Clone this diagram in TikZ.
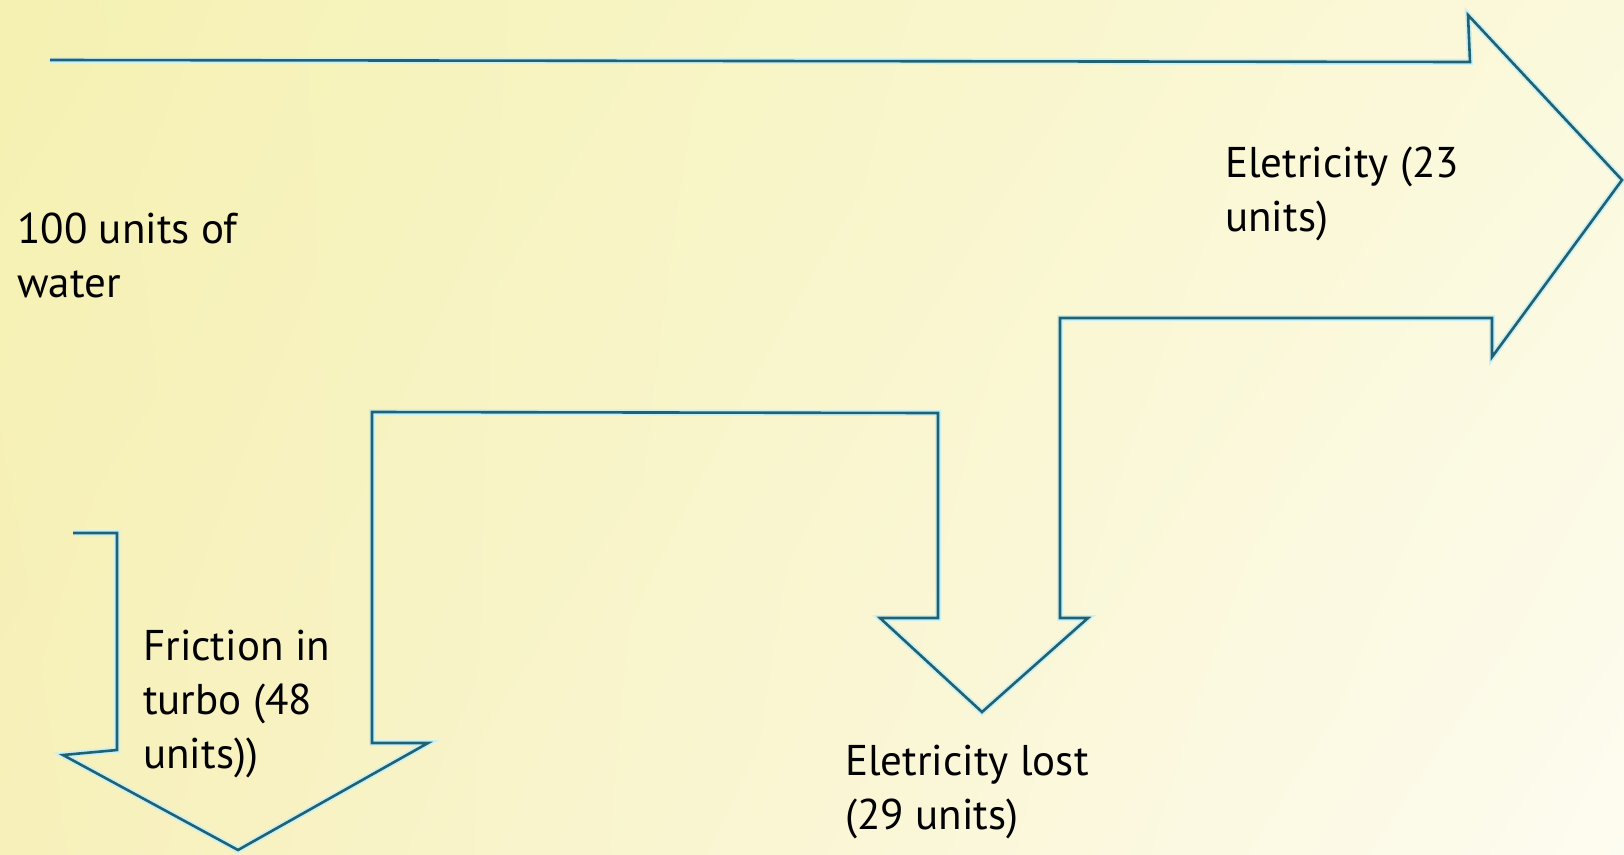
\documentclass[tikz,border=0pt]{standalone}
\usepackage{fontspec}
\setmainfont{PT Sans}
\usetikzlibrary{shadings}
\definecolor{bgUL}{RGB}{245,241,178}
\definecolor{bgUR}{RGB}{251,249,220}
\definecolor{bgLL}{RGB}{247,240,186}
\definecolor{bgLR}{RGB}{253,252,240}
\definecolor{edge}{RGB}{34,98,112}
\definecolor{halo}{RGB}{200,240,245}
\tikzset{
  outline/.style={draw=edge, line width=2.6pt, line join=miter},
  glow/.style={draw=halo, line width=6pt, line join=miter},
  lbl/.style={anchor=base west, inner sep=0pt, align=left, font=\fontsize{43}{54}\selectfont, text=black}
}
\begin{document}
\begin{tikzpicture}[x=1pt,y=-1pt]
\useasboundingbox (0,0) rectangle (1624,854);
\shade[upper left=bgUL, upper right=bgUR, lower left=bgLL, lower right=bgLR] (0,0) rectangle (1624,854);
\def\flow{(50,60) -- (1470,62) -- (1468,15) -- (1622,180) -- (1492,357) -- (1492,318) -- (1060,318) -- (1060,618) -- (1088,618) -- (982,712) -- (880,618) -- (938,618) -- (938,413) -- (372,412) -- (372,743) -- (428,743) -- (238,850) -- (63,755) -- (117,750) -- (117,533) -- (73,533)}
\draw[glow] \flow;
\draw[outline] \flow;
\node[lbl] (water) at (17,297) {100 units of\\water};
\node[lbl] (elec) at (1225,231) {Eletricity (23\\units)};
\node[lbl] (fric) at (143,768) {Friction in\\turbo (48\\units))};
\node[lbl] (lost) at (845,829) {Eletricity lost\\(29 units)};
\end{tikzpicture}
\end{document}
